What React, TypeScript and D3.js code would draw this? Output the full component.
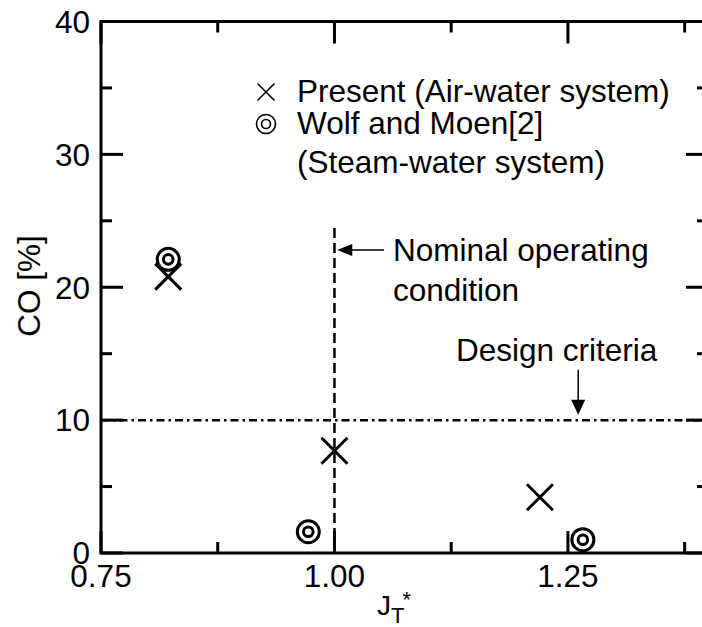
import React from "react";
import * as d3 from "d3";

// Present study (air-water system)
const presentJ = [0.822, 1.0, 1.22];
const presentCO = [20.8, 7.7, 4.2];

// Wolf and Moen [2] (steam-water system)
const wolfJ = [0.822, 0.972, 1.266];
const wolfCO = [22.1, 1.6, 1.0];

const xMajor = [0.75, 1.0, 1.25];
const xMinor = [0.875, 1.125, 1.375];
const yMajor = [0, 10, 20, 30, 40];
const yMinor = [5, 15, 25, 35];

const nominalJ = 1.0;
const nominalTop = 24.6;
const designCO = 10;

const W = 702;
const H = 627;
const left = 101;
const right = 708;
const top = 21.5;
const bottom = 553;

const FONT = "'Liberation Sans', Arial, Helvetica, sans-serif";
const FS = 31.5;

export default function App() {
  const x = d3.scaleLinear().domain([0.75, 1.4]).range([left, right]);
  const y = d3.scaleLinear().domain([0, 40]).range([bottom, top]);

  const major = 22;
  const minor = 11;
  const sw = 3;

  const cross = (cx: number, cy: number, h: number) =>
    `M${cx - h},${cy - h}L${cx + h},${cy + h}M${cx - h},${cy + h}L${cx + h},${cy - h}`;

  // annotation arrows
  const nomArrowY = y(22.8);
  const nomTipX = x(1.003);
  const nomTailX = x(1.053);
  const desX = x(1.261);
  const desTailY = y(13.8);
  const desTipY = y(10.4);

  return (
    <svg
      width={W}
      height={H}
      style={{ position: "absolute", left: 0, top: 0, background: "#fff" }}
      fontFamily={FONT}
    >
      <defs>
        <clipPath id="plot">
          <rect x={0} y={0} width={W} height={H} />
        </clipPath>
      </defs>

      {/* reference lines */}
      <line
        x1={x(nominalJ)}
        x2={x(nominalJ)}
        y1={y(0)}
        y2={y(nominalTop)}
        stroke="#000"
        strokeWidth={2.5}
        strokeDasharray="10,5"
      />
      <line
        x1={left}
        x2={right}
        y1={y(designCO)}
        y2={y(designCO)}
        stroke="#000"
        strokeWidth={2.5}
        strokeDasharray="8,4,2.5,4"
      />

      {/* nominal operating condition arrow */}
      <line x1={nomTailX} x2={nomTipX + 12} y1={nomArrowY} y2={nomArrowY} stroke="#000" strokeWidth={1.5} />
      <path
        d={`M${nomTipX},${nomArrowY}L${nomTipX + 15},${nomArrowY - 6}L${nomTipX + 15},${nomArrowY + 6}Z`}
        fill="#000"
      />
      <text x={393} y={261} fontSize={FS}>Nominal operating</text>
      <text x={393} y={301} fontSize={FS}>condition</text>

      {/* design criteria arrow */}
      <line x1={desX} x2={desX} y1={desTailY} y2={desTipY - 12} stroke="#000" strokeWidth={1.5} />
      <path
        d={`M${desX},${desTipY}L${desX - 7},${desTipY - 15}L${desX + 7},${desTipY - 15}Z`}
        fill="#000"
      />
      <text x={456} y={361} fontSize={FS}>Design criteria</text>

      {/* data: present */}
      {presentJ.map((j, i) => (
        <path key={"p" + i} d={cross(x(j), y(presentCO[i]), 13)} stroke="#000" strokeWidth={3} fill="none" />
      ))}

      {/* data: Wolf and Moen */}
      {wolfJ.map((j, i) => (
        <g key={"w" + i} fill="none" stroke="#000" strokeWidth={3}>
          <circle cx={x(j)} cy={y(wolfCO[i])} r={11} fill="#fff" />
          <circle cx={x(j)} cy={y(wolfCO[i])} r={4.8} />
        </g>
      ))}

      {/* legend */}
      <path d={cross(266, 92, 8.5)} stroke="#000" strokeWidth={1.6} fill="none" />
      <circle cx={266} cy={124} r={9.5} fill="none" stroke="#000" strokeWidth={1.6} />
      <circle cx={266} cy={124} r={4.5} fill="none" stroke="#000" strokeWidth={1.6} />
      <text x={297} y={102} fontSize={FS}>Present (Air-water system)</text>
      <text x={297} y={134} fontSize={FS}>Wolf and Moen[2]</text>
      <text x={297} y={173} fontSize={FS}>(Steam-water system)</text>

      {/* frame and ticks */}
      <g stroke="#000" strokeWidth={sw} clipPath="url(#plot)">
        <rect x={left} y={top} width={right - left} height={bottom - top} fill="none" />
        {xMajor.map((v) => (
          <g key={"xM" + v}>
            <line x1={x(v)} x2={x(v)} y1={bottom} y2={bottom - major} />
            <line x1={x(v)} x2={x(v)} y1={top} y2={top + major} />
          </g>
        ))}
        {xMinor.map((v) => (
          <g key={"xm" + v}>
            <line x1={x(v)} x2={x(v)} y1={bottom} y2={bottom - minor} />
            <line x1={x(v)} x2={x(v)} y1={top} y2={top + minor} />
          </g>
        ))}
        {yMajor.map((v) => (
          <g key={"yM" + v}>
            <line x1={left} x2={left + major} y1={y(v)} y2={y(v)} />
            <line x1={right} x2={right - major} y1={y(v)} y2={y(v)} />
          </g>
        ))}
        {yMinor.map((v) => (
          <g key={"ym" + v}>
            <line x1={left} x2={left + minor} y1={y(v)} y2={y(v)} />
            <line x1={right} x2={right - minor} y1={y(v)} y2={y(v)} />
          </g>
        ))}
      </g>

      {/* tick labels */}
      {yMajor.map((v) => (
        <text key={"yl" + v} x={90} y={y(v)} dy="0.36em" textAnchor="end" fontSize={FS}>
          {v}
        </text>
      ))}
      {xMajor.map((v) => (
        <text key={"xl" + v} x={x(v)} y={587} textAnchor="middle" fontSize={FS}>
          {d3.format(".2f")(v)}
        </text>
      ))}

      {/* axis titles */}
      <text x={377} y={615} fontSize={28}>
        J
        <tspan dy={8} fontSize={22}>T</tspan>
        <tspan dy={-16} dx={-2} fontSize={22}>*</tspan>
      </text>
      <text transform={`translate(40,286) rotate(-90)`} textAnchor="middle" fontSize={FS}>
        CO [%]
      </text>
    </svg>
  );
}
